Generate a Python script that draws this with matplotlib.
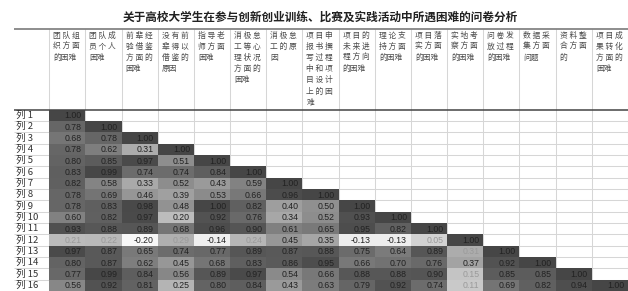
import numpy as np
import matplotlib
matplotlib.use("Agg")
import matplotlib.pyplot as plt
from matplotlib.colors import LinearSegmentedColormap

# ---------------- data ----------------
title = "关于高校大学生在参与创新创业训练、比赛及实践活动中所遇困难的问卷分析"

columns = [
    "团队组织方面的困难",
    "团队成员个人困难",
    "前辈经验借鉴方面的困难",
    "没有前辈得以借鉴的原因",
    "指导老师方面困难",
    "消极怠工等心理状况方面的困难",
    "消极怠工的原因",
    "项目申报书撰写过程中和项目设计上的困难",
    "项目的未来进程方向的困难",
    "理论支持方面的困难",
    "项目落实方面的困难",
    "实地考察方面的困难",
    "问卷发放过程的困难",
    "数据采集方面问题",
    "资料整合方面的",
    "项目成果转化方面的困难",
]

row_labels = ["列 1", "列 2", "列 3", "列 4", "列 5", "列 6", "列 7", "列 8",
              "列 9", "列 10", "列 11", "列 12", "列 13", "列 14", "列 15", "列 16"]

corr_rows = [
    [1.00],
    [0.78, 1.00],
    [0.68, 0.78, 1.00],
    [0.78, 0.62, 0.31, 1.00],
    [0.80, 0.85, 0.97, 0.51, 1.00],
    [0.83, 0.99, 0.74, 0.74, 0.84, 1.00],
    [0.82, 0.58, 0.33, 0.52, 0.43, 0.59, 1.00],
    [0.78, 0.69, 0.46, 0.39, 0.53, 0.66, 0.96, 1.00],
    [0.78, 0.83, 0.98, 0.48, 1.00, 0.82, 0.40, 0.50, 1.00],
    [0.60, 0.82, 0.97, 0.20, 0.92, 0.76, 0.34, 0.52, 0.93, 1.00],
    [0.93, 0.88, 0.89, 0.68, 0.96, 0.90, 0.61, 0.65, 0.95, 0.82, 1.00],
    [0.21, 0.22, -0.20, 0.29, -0.14, 0.24, 0.45, 0.35, -0.13, -0.13, 0.05, 1.00],
    [0.97, 0.87, 0.65, 0.74, 0.77, 0.89, 0.87, 0.88, 0.75, 0.64, 0.89, 0.31, 1.00],
    [0.80, 0.87, 0.62, 0.45, 0.68, 0.83, 0.86, 0.95, 0.66, 0.70, 0.76, 0.37, 0.92, 1.00],
    [0.77, 0.99, 0.84, 0.56, 0.89, 0.97, 0.54, 0.66, 0.88, 0.88, 0.90, 0.15, 0.85, 0.85, 1.00],
    [0.56, 0.92, 0.81, 0.25, 0.80, 0.84, 0.43, 0.63, 0.79, 0.92, 0.74, 0.11, 0.69, 0.82, 0.94, 1.00],
]

# ---------------- layout (pixels) ----------------
W, H = 628, 291
x_data_left = 49.3
y_data_top = 109.5
n = len(columns)
col_w = (W - x_data_left) / n
row_h = (H - y_data_top) / n
x_label_left = 14.0
y_table_top = 29.0

def px_to_x(px):
    return (px - x_data_left) / col_w

def py_to_y(py):
    return (py - y_data_top) / row_h

CJK = ["Noto Sans CJK SC", "DejaVu Sans"]

fig = plt.figure(figsize=(W / 100, H / 100), dpi=100)
fig.patch.set_facecolor("white")

ax = fig.add_axes([x_data_left / W, 0, (W - x_data_left) / W, (H - y_data_top) / H])
ax.set_xlim(0, n)
ax.set_ylim(n, 0)
ax.axis("off")

# matrix
M = np.full((n, n), np.nan)
for i, r in enumerate(corr_rows):
    M[i, :len(r)] = r
Mm = np.ma.masked_invalid(M)

cmap = LinearSegmentedColormap.from_list("greys_xl", ["#f7f7f7", "#464646"])

xl = px_to_x(x_label_left)
yt = py_to_y(y_table_top)

# light grid
grid_c = "#d6d6d6"
ax.vlines(np.arange(0, n + 1), yt, n, colors=grid_c, lw=0.75, zorder=0, clip_on=False)
ax.hlines(np.arange(1, n + 1), xl, n, colors=grid_c, lw=0.75, zorder=0, clip_on=False)

ax.pcolormesh(np.arange(n + 1), np.arange(n + 1), Mm, cmap=cmap, vmin=-0.2, vmax=1.0,
              shading="flat", zorder=1, edgecolors="none")

# heavy rules
ax.hlines(yt, xl, n, colors="#7a7a7a", lw=1.2, zorder=3, clip_on=False)
ax.hlines(0, xl, n, colors="#444444", lw=1.1, zorder=3, clip_on=False)

# values
pad = 4.0 / col_w
for i, r in enumerate(corr_rows):
    for j, v in enumerate(r):
        light = (i == 11 or j == 11) and (0 < v < 0.33)
        ax.text(j + 1 - pad, i + 0.55, f"{v:.2f}", ha="right", va="center",
                fontsize=6.3, family="Liberation Sans",
                color="#9a9a9a" if light else "#222222", zorder=4)

# row labels
for i, lab in enumerate(row_labels):
    ax.text(px_to_x(16.0), i + 0.5, lab, ha="left", va="center", fontsize=6.9,
            family=CJK, color="#333333", clip_on=False, zorder=4)

# column headers (wrapped 3 chars per line, justified except last line)
line0 = py_to_y(36.0)
line_step = 11.1 / row_h
for j, name in enumerate(columns):
    lines = [name[k:k + 3] for k in range(0, len(name), 3)]
    for k, ln in enumerate(lines):
        txt = " ".join(ln) if (k < len(lines) - 1 and len(ln) == 3) else ln
        ax.text(j + 4.0 / col_w, line0 + k * line_step, txt, ha="left", va="center",
                fontsize=5.6, family=CJK, color="#4a4a4a", clip_on=False, zorder=4)

# title
fig.text(320.5 / W, 1 - 17.0 / H, title, ha="center", va="center", fontsize=8.4,
         family=CJK, fontweight="bold", color="#222222")

fig.savefig("out.png", dpi=100, facecolor="white")
